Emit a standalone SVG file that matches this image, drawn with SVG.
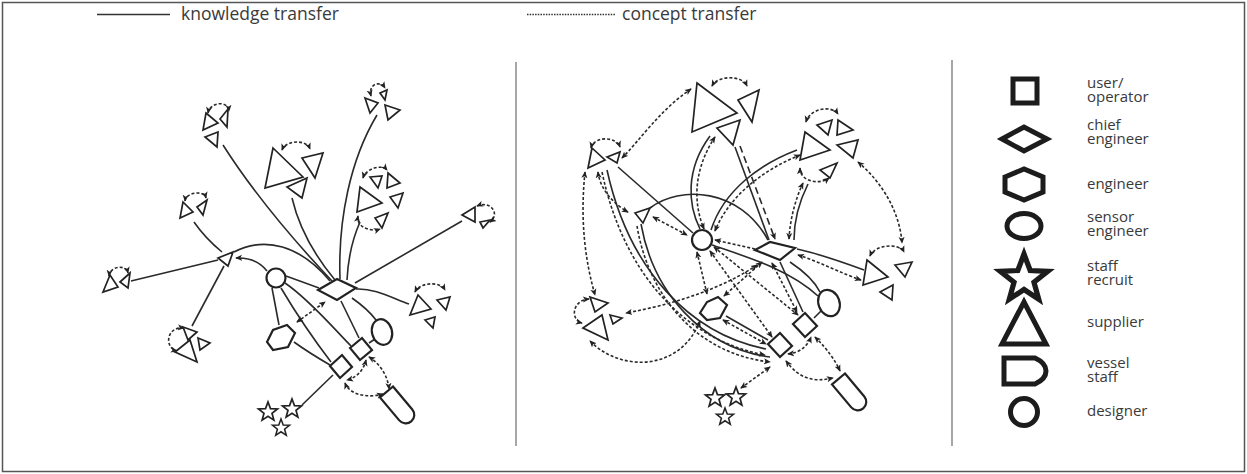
<svg xmlns="http://www.w3.org/2000/svg" width="1247" height="474" viewBox="0 0 1247 474">
  <defs>
    <marker id="ah" viewBox="0 0 8 8" refX="7" refY="4" markerWidth="7" markerHeight="7" markerUnits="userSpaceOnUse" orient="auto-start-reverse">
      <path d="M0,0.5 L8,4 L0,7.5 L2,4 Z" fill="#222"/>
    </marker>
    <path id="star" d="M0,-10 L2.47,-3.4 L9.51,-3.09 L3.99,1.3 L5.88,8.09 L0,4.2 L-5.88,8.09 L-3.99,1.3 L-9.51,-3.09 L-2.47,-3.4 Z"/>
    <path id="vessel" d="M-21,-8.5 H9 A8.5,8.5 0 0 1 9,8.5 H-21 Z"/>
  </defs>
  <style>
    text { font-family: "Open Sans", "Liberation Sans", sans-serif; font-size: 15px; fill: #3a3a3a; }
    .hd { font-size: 17.5px; }
    .k { fill: none; stroke: #2a2a2a; stroke-width: 1.6; }
    .c { fill: none; stroke: #2a2a2a; stroke-width: 1.6; stroke-dasharray: 3 2; }
    .l { fill: none; stroke: #2a2a2a; stroke-width: 1.6; stroke-dasharray: 7 4; }
    .b { marker-start: url(#ah); marker-end: url(#ah); }
    .e { marker-end: url(#ah); }
    .n { fill: #fff; stroke: #222; stroke-width: 2.2; }
    .t { fill: #fff; stroke: #222; stroke-width: 1.7; stroke-linejoin: miter; }
    .lg { fill: #fff; stroke: #1c1c1c; stroke-width: 5; }
    .lgs { fill: #fff; stroke: #1c1c1c; stroke-width: 2.1; stroke-linejoin: miter; }
    .sep { stroke: #777; stroke-width: 1.3; }
  </style>

  <rect x="0" y="0" width="1247" height="474" fill="#fff"/>
  <rect x="2.5" y="2.5" width="1242" height="469" fill="none" stroke="#555" stroke-width="1.5"/>

  <!-- header key -->
  <g id="key">
    <line x1="97" y1="14.5" x2="170" y2="14.5" stroke="#333" stroke-width="1.4"/>
    <text class="hd" x="181" y="20">knowledge transfer</text>
    <line x1="527" y1="14.5" x2="615" y2="14.5" stroke="#333" stroke-width="1.4" stroke-dasharray="1.5 1.2"/>
    <text class="hd" x="622" y="20">concept transfer</text>
  </g>

  <!-- panel separators -->
  <line class="sep" x1="516" y1="62" x2="516" y2="446"/>
  <line class="sep" x1="952" y1="60" x2="952" y2="446"/>

  <!-- ===== left panel: connectors ===== -->
  <g id="left-connectors">
    <path class="k" d="M218,260 L131,281"/>
    <path class="k" d="M224,266 L192,326"/>
    <path class="k" d="M222,252 Q205,238 194,222"/>
    <path class="k e" d="M267,271 Q256,257 236,258"/>
    <path class="k" d="M234,252 C265,236 300,245 330,281"/>
    <path class="k" d="M223,145 C258,200 298,245 332,281"/>
    <path class="k" d="M292,198 C300,232 320,262 335,280"/>
    <path class="k" d="M377,115 C350,160 338,220 340,279"/>
    <path class="k" d="M360,222 C352,240 348,260 347,280"/>
    <path class="k" d="M462,221 L355,283"/>
    <path class="k" d="M356,289 C375,288 392,298 409,304"/>
    <path class="k" d="M286,276 L319,288"/>
    <path class="k" d="M272,288 L279,325"/>
    <path class="k" d="M285,283 C310,300 335,330 351,346"/>
    <path class="k" d="M281,288 C300,320 318,345 331,362"/>
    <path class="k" d="M294,342 C305,350 318,358 330,365"/>
    <path class="k" d="M341,301 L359,338"/>
    <path class="k" d="M352,298 C362,305 370,312 376,320"/>
    <path class="k" d="M369,343 L375,339"/>
    <path class="k" d="M333,375 L302,405"/>
    <path class="c b" d="M297,322 L325,302"/>
    <path class="c b" d="M366,360 Q362,376 347,380"/>
    <path class="c b" d="M369,357 C382,365 388,378 389,389"/>
    <path class="c b" d="M345,383 C350,396 370,398 383,394"/>
    <!-- supplier loops -->
    <path class="c b" d="M109,276 C110,266 126,264 128,273"/>
    <path class="c b" d="M184,328 C166,326 164,348 177,351"/>
    <path class="c b" d="M185,201 C186,192 204,190 206,198"/>
    <path class="c b" d="M208,113 C210,102 228,100 229,111"/>
    <path class="c b" d="M282,150 C286,140 306,139 310,149"/>
    <path class="c b" d="M371,96 C368,84 380,80 385,88"/>
    <path class="c b" d="M363,178 C366,168 382,164 387,170"/>
    <path class="c b" d="M358,216 C356,228 372,232 380,229"/>
    <path class="c b" d="M477,206 C492,200 500,215 490,222"/>
    <path class="c b" d="M415,292 C420,282 440,281 445,290"/>
  </g>

  <!-- ===== left panel: nodes ===== -->
  <g id="l-supplier-hub"><polygon class="t" points="218,258 233,252 228,266"/></g>
  <g id="l-suppliers-a"><polygon class="t" points="103,292 110,275 118,287"/><polygon class="t" points="120,282 130,273 128,288"/></g>
  <g id="l-suppliers-b"><polygon class="t" points="183,327 197,332 188,340"/><polygon class="t" points="175,352 190,340 197,362"/><polygon class="t" points="198,338 210,343 200,350"/></g>
  <g id="l-suppliers-c"><polygon class="t" points="183,202 193,212 180,218"/><polygon class="t" points="197,207 207,200 203,215"/></g>
  <g id="l-suppliers-d"><polygon class="t" points="206,113 218,123 203,130"/><polygon class="t" points="220,119 228,109 227,127"/><polygon class="t" points="205,137 218,132 217,147"/></g>
  <g id="l-suppliers-e"><polygon class="t" points="273,148 303,177 265,188"/><polygon class="t" points="302,158 323,153 315,178"/><polygon class="t" points="287,187 307,178 302,198"/></g>
  <g id="l-suppliers-f"><polygon class="t" points="365,98 378,103 370,113"/><polygon class="t" points="385,105 400,110 388,120"/><polygon class="t" points="380,93 387,90 385,100"/></g>
  <g id="l-suppliers-g"><polygon class="t" points="370,177 382,176 378,188"/><polygon class="t" points="388,173 400,183 387,188"/><polygon class="t" points="360,187 382,203 357,212"/><polygon class="t" points="390,197 403,193 398,208"/><polygon class="t" points="375,218 388,213 382,228"/></g>
  <g id="l-suppliers-h"><polygon class="t" points="462,215 475,207 475,222"/><polygon class="t" points="480,222 490,220 483,228"/></g>
  <g id="l-suppliers-i"><polygon class="t" points="418,295 410,315 431,309"/><polygon class="t" points="437,300 450,297 446,310"/><polygon class="t" points="425,320 435,317 433,328"/></g>
  <g id="l-designer"><circle class="n" cx="276" cy="278" r="9.5"/></g>
  <g id="l-chief"><polygon class="n" points="318,290 337,279 356,288 337,300"/></g>
  <g id="l-engineer"><polygon class="n" points="267,342 273,330 287,325 295,333 288,347 273,350"/></g>
  <g id="l-sensor"><ellipse class="n" cx="382" cy="332" rx="10" ry="13" transform="rotate(-15 382 332)"/></g>
  <g id="l-user-1"><polygon class="n" points="350,348 362,338 372,350 360,360"/></g>
  <g id="l-user-2"><polygon class="n" points="330,366 342,355 352,367 340,378"/></g>
  <g id="l-vessel"><use href="#vessel" class="n" transform="translate(400 408) rotate(50)"/></g>
  <g id="l-recruits" class="t" stroke-width="1.5">
    <use href="#star" transform="translate(268 412)"/>
    <use href="#star" transform="translate(292 409)"/>
    <use href="#star" transform="translate(281 428) scale(0.9)"/>
  </g>

  <!-- ===== middle panel: connectors ===== -->
  <g id="mid-connectors">
    <path class="c b" d="M691,89 C660,110 640,140 622,158"/>
    <path class="c b" d="M585,172 C580,220 585,260 595,295"/>
    <path class="c b" d="M598,172 C600,190 615,205 628,212"/>
    <path class="k" d="M618,167 L693,233"/>
    <path class="k" d="M607,170 C629,270 690,334 766,349"/>
    <path class="c e" d="M602,172 C624,276 686,340 765,355"/>
    <path class="k" d="M641,224 C653,292 702,348 770,357"/>
    <path class="c e" d="M637,226 C649,298 698,354 770,362"/>
    <path class="k" d="M650,208 C680,185 740,188 768,240"/>
    <path class="c b" d="M653,217 L687,235"/>
    <path class="k" d="M710,136 C685,170 688,205 700,229"/>
    <path class="c b" d="M715,137 C692,172 694,205 704,229"/>
    <path class="k" d="M797,150 C760,164 724,190 711,230"/>
    <path class="c b" d="M800,155 C763,170 729,196 715,231"/>
    <path class="k" d="M735,147 L769,240"/>
    <path class="l e" d="M740,146 L775,239"/>
    <path class="k" d="M808,184 C799,202 794,220 794,240"/>
    <path class="c b" d="M803,183 C795,200 790,220 789,239"/>
    <path class="c b" d="M858,162 C885,185 900,215 902,243"/>
    <path class="c b" d="M697,252 L707,294"/>
    <path class="c b" d="M710,251 L772,337"/>
    <path class="c b" d="M714,247 L798,315"/>
    <path class="c b" d="M762,262 L724,296"/>
    <path class="c e" d="M755,249 L715,240"/>
    <path class="c b" d="M772,263 L797,312"/>
    <path class="k" d="M780,262 L803,312"/>
    <path class="k" d="M726,316 L768,340"/>
    <path class="c b" d="M723,320 L766,344"/>
    <path class="k" d="M814,318 L821,311"/>
    <path class="c b" d="M700,321 C680,372 620,372 590,341"/>
    <path class="c b" d="M757,265 C720,290 670,305 626,313"/>
    <path class="c b" d="M788,354 Q805,352 811,337"/>
    <path class="c b" d="M786,361 C800,380 815,382 833,378"/>
    <path class="c b" d="M815,337 C828,350 835,360 840,371"/>
    <path class="c b" d="M741,388 L770,367"/>
    <path class="k" d="M797,249 C820,254 845,263 864,270"/>
    <path class="c b" d="M798,255 C820,262 843,274 861,280"/>
    <path class="k" d="M790,262 C805,272 815,282 820,292"/>
    <path class="k" d="M712,245 C750,258 790,270 818,296"/>
    <!-- supplier loops -->
    <path class="c b" d="M712,86 C718,75 742,75 747,86"/>
    <path class="c b" d="M591,148 C594,136 616,136 620,147"/>
    <path class="c b" d="M806,122 C810,108 832,105 838,114"/>
    <path class="c b" d="M800,168 C800,182 820,185 829,178"/>
    <path class="c b" d="M589,299 C572,300 570,320 582,323"/>
    <path class="c b" d="M870,256 C875,244 900,243 904,252"/>
  </g>

  <!-- ===== middle panel: nodes ===== -->
  <g id="m-suppliers-top"><polygon class="t" points="697,83 737,113 692,132"/><polygon class="t" points="738,100 759,90 752,122"/><polygon class="t" points="717,128 740,120 733,145"/></g>
  <g id="m-suppliers-ul"><polygon class="t" points="592,148 605,160 588,168"/><polygon class="t" points="607,157 620,152 617,163"/></g>
  <g id="m-supplier-mid"><polygon class="t" points="635,213 650,208 643,223"/></g>
  <g id="m-suppliers-r"><polygon class="t" points="805,132 830,150 800,160"/><polygon class="t" points="817,125 832,120 828,135"/><polygon class="t" points="838,120 853,130 837,135"/><polygon class="t" points="837,145 858,140 853,158"/><polygon class="t" points="820,170 837,163 830,178"/></g>
  <g id="m-suppliers-ll"><polygon class="t" points="590,297 608,303 595,312"/><polygon class="t" points="583,328 602,315 608,340"/><polygon class="t" points="610,315 622,318 613,324"/></g>
  <g id="m-suppliers-lr"><polygon class="t" points="867,260 888,277 863,285"/><polygon class="t" points="895,265 912,262 905,277"/><polygon class="t" points="880,292 893,285 892,300"/></g>
  <g id="m-designer"><circle class="n" cx="702" cy="240" r="10"/></g>
  <g id="m-chief"><polygon class="n" points="755,250 770,242 795,248 780,260"/></g>
  <g id="m-engineer"><polygon class="n" points="700,313 707,302 718,297 727,305 720,318 707,320"/></g>
  <g id="m-sensor"><ellipse class="n" cx="829" cy="303" rx="10.5" ry="13.5" transform="rotate(-20 829 303)"/></g>
  <g id="m-user-1"><polygon class="n" points="793,324 805,313 817,326 805,337"/></g>
  <g id="m-user-2"><polygon class="n" points="768,344 780,333 792,346 780,357"/></g>
  <g id="m-vessel"><use href="#vessel" class="n" transform="translate(852 395) rotate(50)"/></g>
  <g id="m-recruits" class="t" stroke-width="1.5">
    <use href="#star" transform="translate(715 398)"/>
    <use href="#star" transform="translate(736 397)"/>
    <use href="#star" transform="translate(725 417) scale(0.9)"/>
  </g>

  <!-- ===== legend ===== -->
  <g id="legend-user">
    <rect class="lg" x="1013" y="79" width="24" height="24"/>
    <text x="1087" y="87.5">user/<tspan x="1087" dy="14.5">operator</tspan></text>
  </g>
  <g id="legend-chief">
    <polygon class="lg" points="1002,139 1024,127 1047,139 1024,151"/>
    <text x="1087" y="129.5">chief<tspan x="1087" dy="14.5">engineer</tspan></text>
  </g>
  <g id="legend-engineer">
    <polygon class="lg" points="1005,177 1024,169 1043,177 1043,192 1024,200 1005,192"/>
    <text x="1087" y="189">engineer</text>
  </g>
  <g id="legend-sensor">
    <ellipse class="lg" cx="1024" cy="226" rx="17" ry="12.5"/>
    <text x="1087" y="221.5">sensor<tspan x="1087" dy="14.5">engineer</tspan></text>
  </g>
  <g id="legend-recruit">
    <use href="#star" class="lgs" transform="translate(1024 279) scale(2.5)"/>
    <text x="1087" y="270.5">staff<tspan x="1087" dy="14.5">recruit</tspan></text>
  </g>
  <g id="legend-supplier">
    <polygon class="lg" points="1024,302 1046,344 1002,344" stroke-linejoin="miter"/>
    <text x="1087" y="327">supplier</text>
  </g>
  <g id="legend-vessel">
    <path class="lg" d="M1004,358 H1035 Q1046,363 1046,371 Q1046,379 1035,384 H1004 Z"/>
    <text x="1087" y="367.5">vessel<tspan x="1087" dy="14.5">staff</tspan></text>
  </g>
  <g id="legend-designer">
    <circle class="lg" cx="1024" cy="412" r="13.5"/>
    <text x="1087" y="416">designer</text>
  </g>
</svg>
